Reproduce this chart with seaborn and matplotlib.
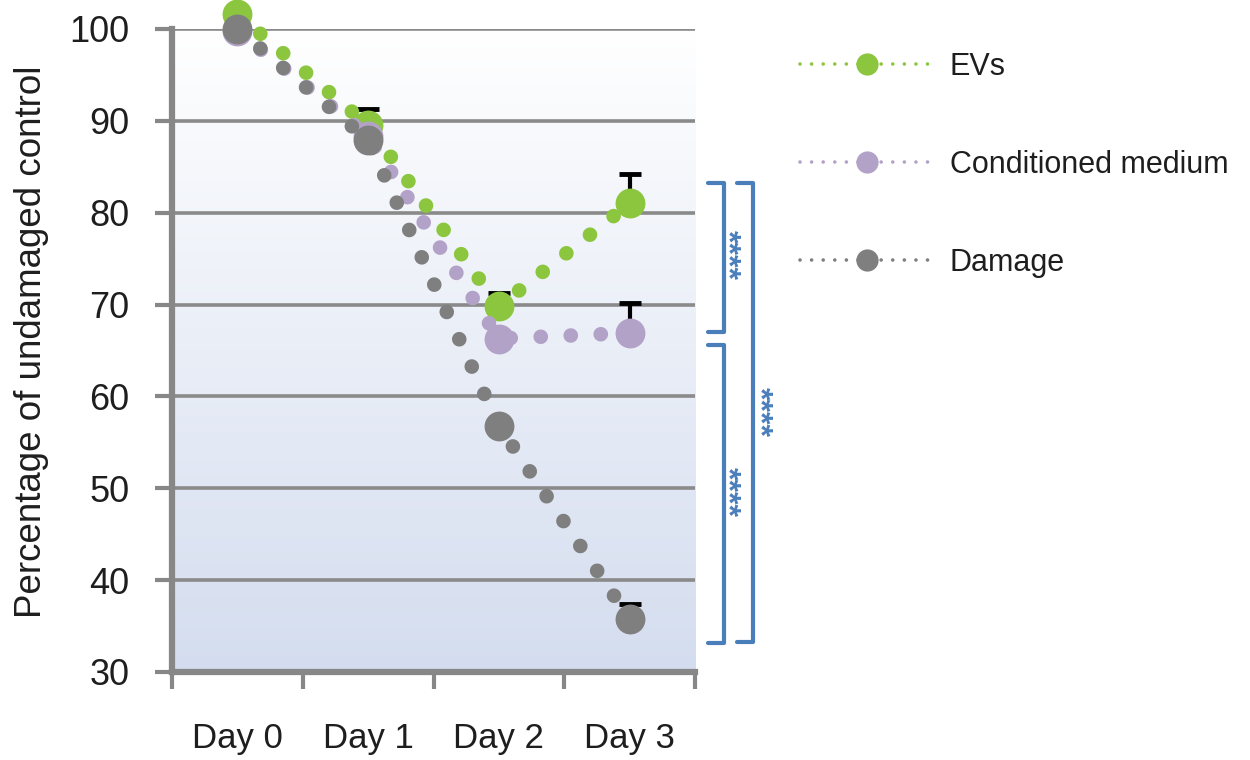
import numpy as np
import pandas as pd
import matplotlib
matplotlib.use("Agg")
import matplotlib.pyplot as plt
from matplotlib.lines import Line2D
from matplotlib.colors import LinearSegmentedColormap
import seaborn as sns

# ---- data ----
days = ["Day 0", "Day 1", "Day 2", "Day 3"]
series_names = ["EVs", "Conditioned medium", "Damage"]
evs = [101.6, 89.5, 69.8, 81.0]
conditioned = [99.8, 88.3, 66.3, 66.9]
damage = [100.0, 87.9, 56.8, 35.8]
evs_err = [0.0, 1.8, 1.5, 3.2]
conditioned_err = [0.0, 0.0, 0.0, 3.3]
damage_err = [0.0, 0.0, 0.0, 1.6]
colors = ["#8CC63F", "#B3A2C7", "#7F7F7F"]

values = [evs, conditioned, damage]
errors = [evs_err, conditioned_err, damage_err]

df = pd.DataFrame(
    [{"day": d, "value": v, "series": name}
     for name, vals in zip(series_names, values)
     for d, v in zip(days, vals)]
)

sns.set_theme(style="white")
plt.rcParams["font.family"] = ["Liberation Sans", "DejaVu Sans"]
text_color = "#1E1E1E"
axis_gray = "#878787"

fig = plt.figure(figsize=(12.5, 7.6), dpi=100)
ax = fig.add_axes([0.1376, 0.1158, 0.4184, 0.8461])

# plot-area background: white at the top fading to pale blue
grad = np.linspace(0, 1, 256).reshape(-1, 1)
bg_cmap = LinearSegmentedColormap.from_list("bg", ["#FFFFFF", "#D4DDEF"])
ax.imshow(grad, extent=(-0.5, 3.5, 30, 100), aspect="auto", cmap=bg_cmap,
          zorder=-1, interpolation="bilinear")

# upward-only error bars
for vals, errs in zip(values, errors):
    idx = [i for i, e in enumerate(errs) if e > 0]
    ax.errorbar(idx, [vals[i] for i in idx],
                yerr=[[0] * len(idx), [errs[i] for i in idx]],
                fmt="none", ecolor="black", elinewidth=3, capsize=8,
                capthick=3.5, zorder=2, clip_on=False)

# dotted series with large round markers
sns.lineplot(
    data=df, x="day", y="value", hue="series", style="series",
    hue_order=series_names, style_order=series_names, palette=colors,
    markers={n: "o" for n in series_names},
    dashes={n: (0.01, 2.05) for n in series_names},
    markersize=21.5, markeredgewidth=0, linewidth=10.5,
    legend=False, sort=False, ax=ax, zorder=3,
)
for ln in ax.lines:
    ln.set_dash_capstyle("round")
    ln.set_clip_on(False)

# axes, ticks, grid
ax.set_xlim(-0.5, 3.5)
ax.set_ylim(30, 100)
ax.set_xticks(np.arange(-0.5, 4.0, 1.0))
ax.set_xticklabels([])
ax.set_xticks(range(len(days)), minor=True)
ax.set_xticklabels(days, minor=True)
ax.set_yticks(range(30, 101, 10))
ax.tick_params(axis="x", which="major", length=12, width=3, color=axis_gray,
               direction="out", bottom=True)
ax.tick_params(axis="x", which="minor", length=0, pad=36, labelsize=25,
               labelcolor=text_color, bottom=True)
ax.tick_params(axis="y", length=12, width=3, color=axis_gray, direction="out",
               pad=18.5, labelsize=26, labelcolor=text_color, left=True)
ax.set_xlabel("")
ax.set_ylabel("Percentage of undamaged control", fontsize=26.5,
              color=text_color)
ax.yaxis.set_label_coords(-0.235, 0.513)

ax.set_axisbelow(True)
ax.grid(axis="y", color="#8A8A8A", linewidth=2.6)
ax.grid(axis="x", visible=False)
for side in ("top", "right"):
    ax.spines[side].set_visible(False)
for side in ("left", "bottom"):
    ax.spines[side].set_color(axis_gray)
    ax.spines[side].set_linewidth(4.5)

# significance brackets
bracket_color = "#4A7EBB"
brackets = [
    ((3.60, 3.72), (83.2, 67.0)),
    ((3.60, 3.72), (65.6, 33.2)),
    ((3.82, 3.94), (83.2, 33.3)),
]
for (x0, x1), (ytop, ybot) in brackets:
    ax.plot([x0, x1, x1, x0], [ytop, ytop, ybot, ybot], color=bracket_color,
            lw=3, clip_on=False, solid_joinstyle="round", zorder=4)
for xs, ys in [(3.745, 75.4), (3.745, 49.6), (3.985, 58.3)]:
    ax.text(xs, ys, "****", rotation=-90, ha="center", va="center",
            fontsize=23, fontweight="bold", color=bracket_color,
            clip_on=False)

# legend
handles = [
    Line2D([0], [0], color=c, lw=2.6, linestyle=(0, (0.01, 3.2)),
           dash_capstyle="round", marker="o", markersize=16,
           markeredgewidth=0)
    for c in colors
]
ax.legend(handles, series_names, loc="upper left",
          bbox_to_anchor=(0.64, 0.932), bbox_transform=fig.transFigure,
          frameon=False, fontsize=22, handlelength=4.4, handletextpad=0.5,
          labelspacing=2.23, borderpad=0, borderaxespad=0, numpoints=1,
          labelcolor=text_color)

fig.savefig("out.png", dpi=100)
